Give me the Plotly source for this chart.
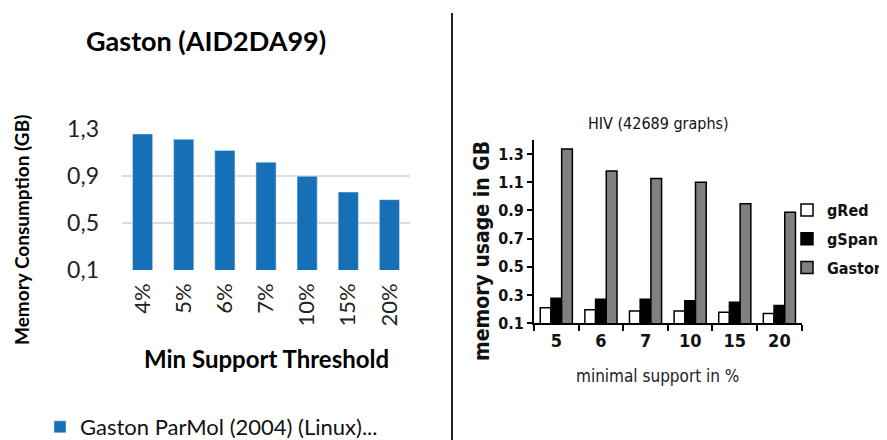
import plotly.graph_objects as go

# left chart data (Gaston AID2DA99)
left_cats = ['4%', '5%', '6%', '7%', '10%', '15%', '20%']
left_vals = [1.26, 1.215, 1.12, 1.02, 0.90, 0.765, 0.70]
left_yticks = [0.1, 0.5, 0.9, 1.3]
left_ytext = ['0,1', '0,5', '0,9', '1,3']

# right chart data (HIV 42689 graphs)
right_cats = ['5', '6', '7', '10', '15', '20']
gred = [0.21, 0.196, 0.187, 0.187, 0.178, 0.17]
gspan = [0.277, 0.27, 0.27, 0.26, 0.25, 0.227]
gaston = [1.335, 1.18, 1.126, 1.10, 0.948, 0.888]
right_yticks = [0.1, 0.3, 0.5, 0.7, 0.9, 1.1, 1.3]

# the page body has an 8px margin, so the figure is a bit smaller and
# positions below are given in window pixels and shifted back by 8
OFF = 8
W, H = 887 - OFF, 440 - OFF
def px(x):
    return (x - OFF) / W
def py(y):
    return (H - (y - OFF)) / H

LEFT_FONT = 'Lato, Open Sans, sans-serif'
NARROW = 'Liberation Sans Narrow, DejaVu Sans Condensed, sans-serif'

fig = go.Figure()

fig.add_trace(go.Bar(
    x=left_cats, y=left_vals, name='Gaston ParMol (2004) (Linux)...',
    marker_color='#1670b8', width=0.49, showlegend=True,
    xaxis='x', yaxis='y', legend='legend'
))

for name, vals, col in [('gRed', gred, 'white'), ('gSpan', gspan, 'black'), ('Gaston', gaston, '#808080')]:
    fig.add_trace(go.Bar(
        x=right_cats, y=vals, name=name, showlegend=True,
        marker=dict(color=col, line=dict(color='black', width=1.5)),
        xaxis='x2', yaxis='y2', legend='legend2', legendgroup=name
    ))

def label(text, x, y, size, family, angle=0, color='black'):
    return dict(text=text, x=px(x), y=py(y), xref='paper', yref='paper',
                xanchor='center', yanchor='middle', textangle=angle, showarrow=False,
                font=dict(family=family, size=size, color=color))

fig.update_layout(
    width=W, height=H,
    margin=dict(l=0, r=0, t=0, b=0, autoexpand=False),
    paper_bgcolor='white', plot_bgcolor='white',
    showlegend=True,
    barmode='group', bargap=0.28, bargroupgap=0,
    xaxis=dict(
        domain=[px(122), px(410)], anchor='y',
        tickangle=-90, tickfont=dict(family=LEFT_FONT, size=22, color='#222'),
        showline=False, ticks='', showgrid=False, ticklabelstandoff=8
    ),
    yaxis=dict(
        domain=[py(270), py(129.3)], anchor='x', range=[0.1, 1.3],
        tickvals=left_yticks, ticktext=left_ytext,
        tickfont=dict(family=LEFT_FONT, size=23, color='#222'),
        showgrid=True, gridcolor='#d9dde3', gridwidth=1.5,
        zeroline=False, showline=False, ticks='', ticklabelstandoff=22
    ),
    xaxis2=dict(
        domain=[px(534), px(801.7)], anchor='y2',
        tickfont=dict(family=NARROW, size=18, color='#111', weight='bold'),
        showline=True, linecolor='black', linewidth=2,
        ticks='outside', tickson='boundaries', ticklen=6, tickwidth=2, tickcolor='black',
        showgrid=False
    ),
    yaxis2=dict(
        domain=[py(323.3), py(139.9)], anchor='x2', range=[0.1, 1.4],
        tickvals=right_yticks, tickformat='.1f',
        tickfont=dict(family=NARROW, size=16, color='#111', weight='bold'),
        showline=True, linecolor='black', linewidth=2,
        ticks='outside', ticklen=5, tickwidth=2, tickcolor='black',
        showgrid=False, zeroline=False
    ),
    legend=dict(
        x=px(40), y=py(427), xanchor='left', yanchor='middle',
        font=dict(family=LEFT_FONT, size=22, color='#111'),
        bgcolor='rgba(0,0,0,0)', itemwidth=30
    ),
    legend2=dict(
        x=px(787), y=py(239), xanchor='left', yanchor='middle',
        font=dict(family=NARROW, size=16, color='#111', weight='bold'),
        bgcolor='rgba(0,0,0,0)', tracegroupgap=5, itemwidth=30
    ),
    annotations=[
        label('<b>Gaston (AID2DA99)</b>', 206, 40, 27, LEFT_FONT),
        label('<b>Memory Consumption (GB)</b>', 22, 230, 19, LEFT_FONT, angle=-90),
        label('<b>Min Support Threshold</b>', 266, 358, 24, LEFT_FONT),
        label('HIV (42689 graphs)', 658, 123, 16, NARROW, color='#111'),
        label('<b>memory usage in GB</b>', 482, 251, 21, NARROW, angle=-90, color='#111'),
        label('minimal support in %', 657, 376, 17, NARROW, color='#222'),
    ],
    shapes=[
        dict(type='line', xref='paper', yref='paper', x0=px(452), x1=px(452), y0=0, y1=py(13),
             line=dict(color='#222', width=2))
    ]
)

fig.write_html('out.html')
